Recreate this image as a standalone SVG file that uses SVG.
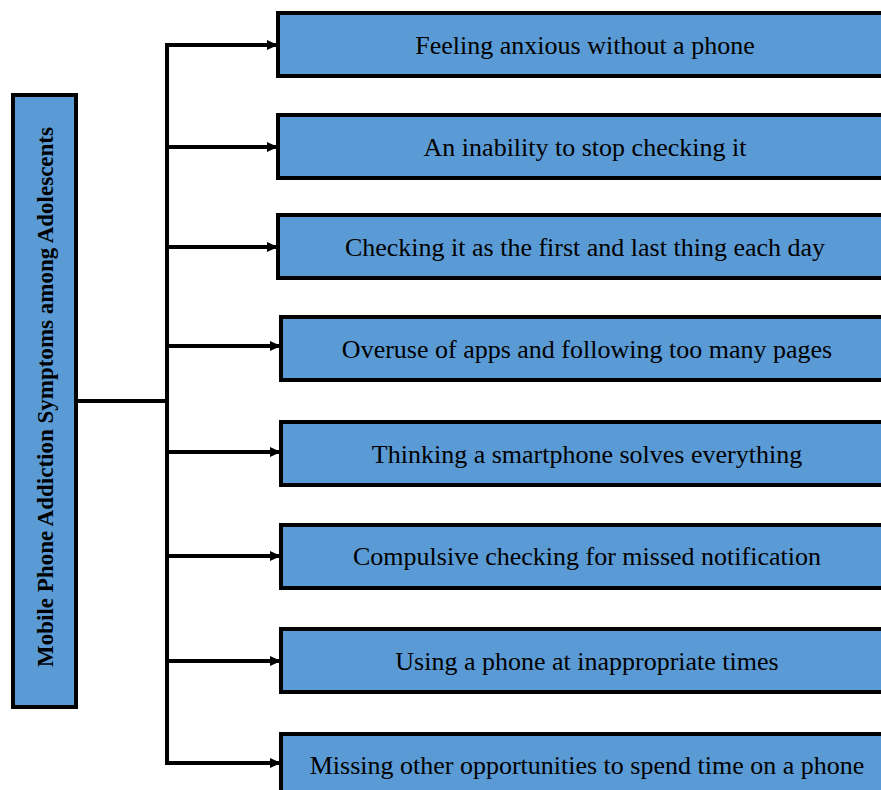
<svg xmlns="http://www.w3.org/2000/svg" width="881" height="790" viewBox="0 0 881 790">
  <style>
    .box { fill: #5b9bd5; stroke: #000; stroke-width: 4; }
    .lbl { font-family: "Liberation Serif", "Times New Roman", serif; font-size: 26px; fill: #000; text-anchor: middle; dominant-baseline: central; }
    .root { font-family: "Liberation Serif", "Times New Roman", serif; font-size: 23px; font-weight: bold; fill: #000; text-anchor: middle; dominant-baseline: central; }
    .wire { fill: none; stroke: #000; stroke-width: 4; }
  </style>
  <defs>
    <marker id="arrow" markerWidth="11" markerHeight="12" refX="11" refY="6" orient="auto" markerUnits="userSpaceOnUse">
      <path d="M0,1 L11,6 L0,11 Z" fill="#000"/>
    </marker>
  </defs>
  <rect width="881" height="790" fill="#fff"/>

  <g id="root">
    <rect class="box" x="13" y="95" width="63" height="612"/>
    <text class="root" transform="translate(45,397) rotate(-90)">Mobile Phone Addiction Symptoms among Adolescents</text>
  </g>

  <g id="connectors">
    <path class="wire" d="M76,401 H167"/>
    <path class="wire" d="M167,43 V765"/>
    <path class="wire" d="M165,45 H278" marker-end="url(#arrow)"/>
    <path class="wire" d="M165,147 H278" marker-end="url(#arrow)"/>
    <path class="wire" d="M165,247 H278" marker-end="url(#arrow)"/>
    <path class="wire" d="M165,346 H281" marker-end="url(#arrow)"/>
    <path class="wire" d="M165,452 H281" marker-end="url(#arrow)"/>
    <path class="wire" d="M165,556 H281" marker-end="url(#arrow)"/>
    <path class="wire" d="M165,661 H281" marker-end="url(#arrow)"/>
    <path class="wire" d="M165,763 H281" marker-end="url(#arrow)"/>
  </g>

  <g id="n1">
    <rect class="box" x="278" y="13" width="612" height="63"/>
    <text class="lbl" x="585" y="45">Feeling anxious without a phone</text>
  </g>
  <g id="n2">
    <rect class="box" x="278" y="115" width="612" height="63"/>
    <text class="lbl" x="585" y="147">An inability to stop checking it</text>
  </g>
  <g id="n3">
    <rect class="box" x="278" y="215" width="612" height="63"/>
    <text class="lbl" x="585" y="247">Checking it as the first and last thing each day</text>
  </g>
  <g id="n4">
    <rect class="box" x="281" y="317" width="612" height="63"/>
    <text class="lbl" x="587" y="349">Overuse of apps and following too many pages</text>
  </g>
  <g id="n5">
    <rect class="box" x="281" y="422" width="612" height="63"/>
    <text class="lbl" x="587" y="454">Thinking a smartphone solves everything</text>
  </g>
  <g id="n6">
    <rect class="box" x="281" y="525" width="612" height="63"/>
    <text class="lbl" x="587" y="556">Compulsive checking for missed notification</text>
  </g>
  <g id="n7">
    <rect class="box" x="281" y="629" width="612" height="63"/>
    <text class="lbl" x="587" y="661">Using a phone at inappropriate times</text>
  </g>
  <g id="n8">
    <rect class="box" x="281" y="734" width="612" height="63"/>
    <text class="lbl" x="587" y="765">Missing other opportunities to spend time on a phone</text>
  </g>
</svg>
